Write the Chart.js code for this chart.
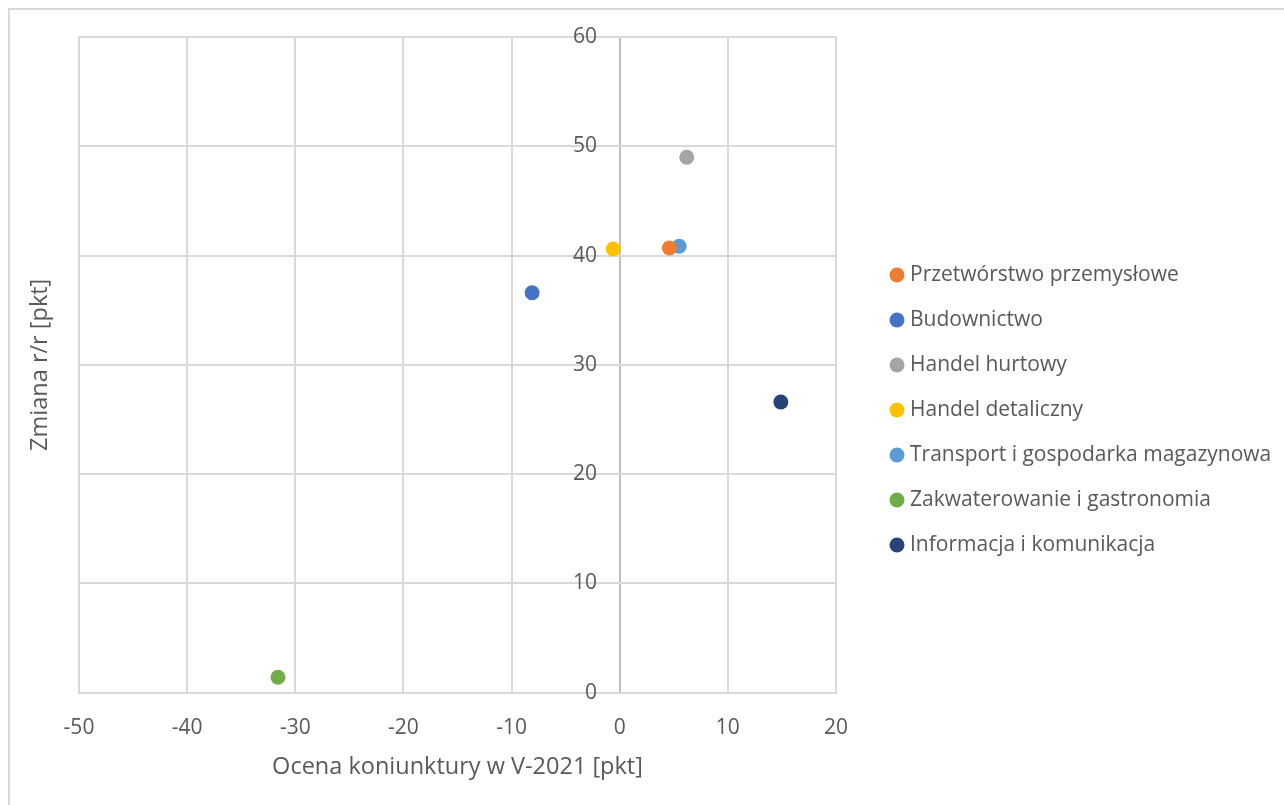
<!DOCTYPE html>
<html lang="pl">
<head>
<meta charset="utf-8">
<script src="https://cdn.jsdelivr.net/npm/chart.js@4.4.1/dist/chart.umd.min.js"></script>
<style>
  html, body { margin: 0; padding: 0; background: #ffffff; overflow: hidden; }
  #frame { position: absolute; left: 8px; top: 8px; width: 1300px; height: 820px;
           border: 2px solid #d9d9d9; box-sizing: border-box; }
  #wrap { position: absolute; left: 0; top: 0; width: 1284px; height: 805px; }
</style>
</head>
<body>
<div id="frame"></div>
<div id="wrap"><canvas id="chart" width="1284" height="805"></canvas></div>
<script>
// Sectors, business-climate score in May 2021 (x) and year-on-year change (y)
const sectors = [
  'Przetwórstwo przemysłowe',
  'Budownictwo',
  'Handel hurtowy',
  'Handel detaliczny',
  'Transport i gospodarka magazynowa',
  'Zakwaterowanie i gastronomia',
  'Informacja i komunikacja'
];
const climateScore = [4.6, -8.1, 6.2, -0.6, 5.5, -31.6, 14.9];
const yearOnYearChange = [40.7, 36.6, 49.0, 40.6, 40.85, 1.4, 26.6];
const sectorColors = ['#ED7D31', '#4472C4', '#A5A5A5', '#FFC000', '#5B9BD5', '#70AD47', '#264478'];

const xRange = [-50, 20];
const yRange = [0, 60];
const tickStep = 10;

const xTitle = 'Ocena koniunktury w V-2021 [pkt]';
const yTitle = 'Zmiana r/r [pkt]';

const textColor = '#595959';
const gridColor = '#d9d9d9';
const axisLineColor = '#bfbfbf';
const fontFamily = '"Open Sans", Lato, sans-serif';

const datasets = sectors.map((name, i) => ({
  label: name,
  data: [{ x: climateScore[i], y: yearOnYearChange[i] }],
  backgroundColor: sectorColors[i],
  borderColor: sectorColors[i],
  borderWidth: 0,
  pointRadius: 7.5,
  pointHoverRadius: 7.5,
  pointStyle: 'circle'
}));

// Vertical axis title, drawn at the left edge since the y axis itself crosses near x = 0
const yTitlePlugin = {
  id: 'yTitleLeft',
  afterDraw(chart) {
    const { ctx, chartArea } = chart;
    ctx.save();
    ctx.translate(40, (chartArea.top + chartArea.bottom) / 2);
    ctx.rotate(-Math.PI / 2);
    ctx.font = '23.5px ' + fontFamily;
    ctx.fillStyle = textColor;
    ctx.textAlign = 'center';
    ctx.textBaseline = 'middle';
    ctx.fillText(yTitle, 0, 0);
    ctx.restore();
  }
};

// Series legend in the free band right of the plot, one row per dataset
const sideLegendPlugin = {
  id: 'sideLegend',
  afterDraw(chart) {
    const { ctx, chartArea } = chart;
    const markerX = chartArea.right + 61;
    const textX = markerX + 13;
    const rowGap = 45;
    const firstRowY = chartArea.top + 238;
    ctx.save();
    ctx.font = '21px ' + fontFamily;
    ctx.textAlign = 'left';
    ctx.textBaseline = 'middle';
    chart.data.datasets.forEach((ds, i) => {
      const y = firstRowY + i * rowGap;
      ctx.fillStyle = ds.backgroundColor;
      ctx.beginPath();
      ctx.arc(markerX, y, 7.5, 0, Math.PI * 2);
      ctx.fill();
      ctx.fillStyle = textColor;
      ctx.fillText(ds.label, textX, y);
    });
    ctx.restore();
  }
};

new Chart(document.getElementById('chart'), {
  type: 'scatter',
  data: { datasets },
  plugins: [yTitlePlugin, sideLegendPlugin],
  options: {
    responsive: false,
    devicePixelRatio: 1,
    animation: false,
    layout: { padding: { left: 79, top: 37, right: 448, bottom: 24 } },
    plugins: {
      tooltip: { enabled: false },
      legend: { display: false }
    },
    scales: {
      x: {
        type: 'linear',
        position: 'bottom',
        min: xRange[0],
        max: xRange[1],
        ticks: { stepSize: tickStep, padding: 23, color: textColor, font: { size: 21, family: fontFamily } },
        // the zero gridline doubles as the vertical axis line
        grid: {
          color: (c) => (c.tick && c.tick.value === 0 ? axisLineColor : gridColor),
          lineWidth: 2,
          drawTicks: false
        },
        border: { color: gridColor, width: 2 },
        title: {
          display: true, text: xTitle, color: textColor,
          font: { size: 23.5, family: fontFamily },
          padding: { top: -11, bottom: 0 }
        }
      },
      y: {
        type: 'linear',
        // labels sit just left of the zero line
        position: { x: -2.1 },
        min: yRange[0],
        max: yRange[1],
        ticks: { stepSize: tickStep, color: textColor, font: { size: 21, family: fontFamily } },
        grid: { color: gridColor, lineWidth: 2, drawTicks: false },
        border: { display: false }
      }
    }
  }
});
</script>
</body>
</html>
